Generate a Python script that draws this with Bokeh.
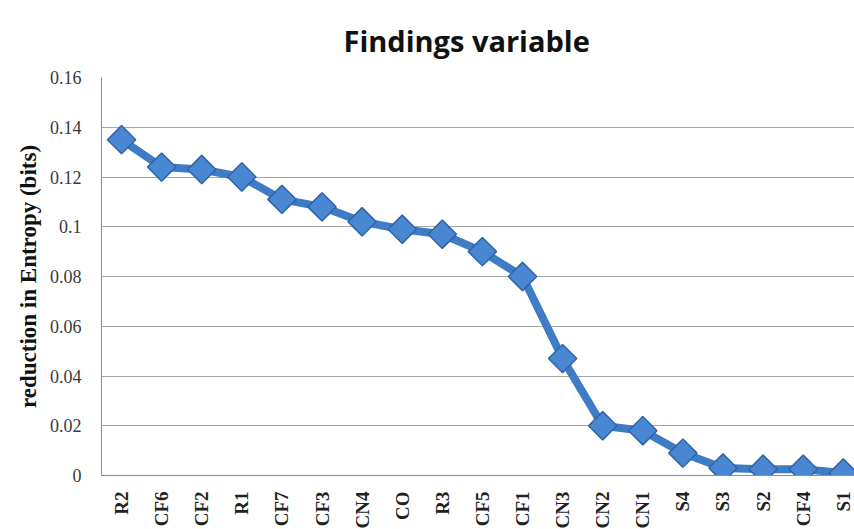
import math
from bokeh.plotting import figure
from bokeh.models import Range1d, FixedTicker
from bokeh.embed import file_html
from bokeh.resources import INLINE

categories = ["R2", "CF6", "CF2", "R1", "CF7", "CF3", "CN4", "CO", "R3", "CF5",
              "CF1", "CN3", "CN2", "CN1", "S4", "S3", "S2", "CF4", "S1"]
values = [0.135, 0.124, 0.123, 0.120, 0.111, 0.108, 0.102, 0.099, 0.097, 0.090,
          0.080, 0.047, 0.020, 0.018, 0.009, 0.003, 0.0025, 0.0025, 0.001]
y_ticks = [0, 0.02, 0.04, 0.06, 0.08, 0.10, 0.12, 0.14, 0.16]
y_tick_labels = ["0", "0.02", "0.04", "0.06", "0.08", "0.1", "0.12", "0.14", "0.16"]

xs = list(range(len(categories)))

p = figure(width=854, height=529, output_backend="svg", toolbar_location=None,
           x_range=Range1d(-0.5, 18.28), y_range=Range1d(0, 0.16),
           frame_width=753, frame_height=398,
           min_border_left=101, min_border_right=0, min_border_top=77, min_border_bottom=40,
           title="Findings variable")

p.title.text_font = "Open Sans"
p.title.text_font_size = "29px"
p.title.text_font_style = "bold"
p.title.text_color = "#111111"
p.title.align = "left"
p.title.offset = 242
p.title.standoff = 35

p.outline_line_color = None
p.background_fill_color = "white"
p.border_fill_color = "white"

p.xgrid.grid_line_color = None
p.ygrid.grid_line_color = "#a6a6a6"
p.ygrid.grid_line_width = 1

p.yaxis.ticker = FixedTicker(ticks=y_ticks)
p.yaxis.major_label_overrides = {t: l for t, l in zip(y_ticks, y_tick_labels)}
p.yaxis.major_tick_line_color = None
p.yaxis.minor_tick_line_color = None
p.yaxis.axis_line_color = "#8c8c8c"
p.yaxis.major_label_text_font = "Liberation Serif"
p.yaxis.major_label_text_font_size = "18px"
p.yaxis.major_label_text_color = "#3a3a3a"
p.yaxis.major_label_standoff = 14
p.yaxis.axis_label = "reduction in Entropy (bits)"
p.yaxis.axis_label_text_font = "Liberation Serif"
p.yaxis.axis_label_text_font_size = "23px"
p.yaxis.axis_label_text_font_style = "bold"
p.yaxis.axis_label_text_color = "#111111"
p.yaxis.axis_label_standoff = 6

p.xaxis.ticker = FixedTicker(ticks=xs)
p.xaxis.major_label_overrides = {i: c for i, c in zip(xs, categories)}
p.xaxis.major_tick_line_color = None
p.xaxis.minor_tick_line_color = None
p.xaxis.axis_line_color = "#8c8c8c"
p.xaxis.major_label_orientation = math.pi / 2
p.xaxis.major_label_text_font = "Liberation Serif"
p.xaxis.major_label_text_font_size = "19px"
p.xaxis.major_label_text_font_style = "bold"
p.xaxis.major_label_text_color = "#222222"
p.xaxis.major_label_standoff = 10

p.line(xs, values, line_color="#3e7cc6", line_width=8)
p.scatter(xs, values, marker="square", angle=math.pi / 4, size=20,
          fill_color="#4a87d2", line_color="#2f65a8", line_width=1.5)

open("out.html", "w").write(file_html(p, INLINE))
